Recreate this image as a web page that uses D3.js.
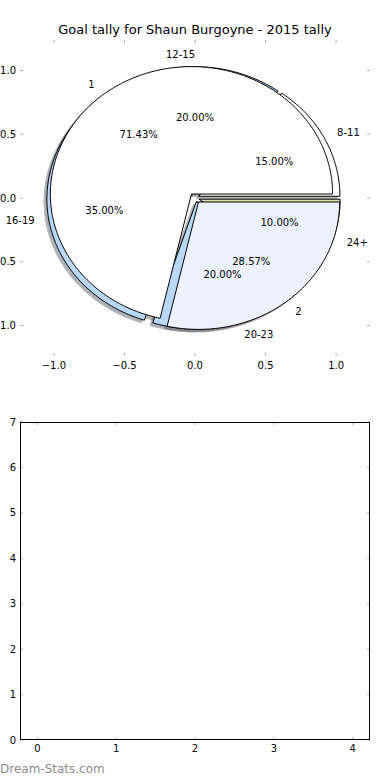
<!DOCTYPE html>
<html>
<head>
<script src="https://d3js.org/d3.v7.min.js"></script>
<style>
  body { margin: 0; background: #fff; }
  svg { display: block; }
  text { font-family: "DejaVu Sans", sans-serif; fill: #000; }
</style>
</head>
<body>
<script>
const title = "Goal tally for Shaun Burgoyne - 2015 tally";

// outer pie: goals by quarter-time range (percent)
const rangeLabels = ["8-11", "12-15", "16-19", "20-23", "24+"];
const rangeValues = [15, 20, 35, 20, 10];
const rangeColors = ["#ffffff", "#b9d7f9", "#b9d7f9", "#b9d7f9", "#d9e6a8"];
const rangeExplode = [0.03, 0.03, 0.05, 0.03, 0.03];

// second pie: goals per game
const goalLabels = ["1", "2"];
const goalValues = [5, 2];
const goalColors = ["#ffffff", "#ecf2fd"];
const goalExplode = [0.04, 0.04];

const pieTicks = [-1, -0.5, 0, 0.5, 1];
const emptyXTicks = [0, 1, 2, 3, 4];
const emptyYTicks = [0, 1, 2, 3, 4, 5, 6, 7];

const width = 390, height = 780;
const left = 20, right = 370;

const svg = d3.select("body").append("svg")
  .attr("width", width)
  .attr("height", height);

const fmtTick = v => (v < 0 ? "\u2212" : "") + Math.abs(v).toFixed(1);

// ---------- pie axes ----------
const xPie = d3.scaleLinear().domain([-1.24, 1.24]).range([left, right]);
const yPie = d3.scaleLinear().domain([-1.24, 1.24]).range([356, 40]);

svg.append("text")
  .attr("x", 195).attr("y", 34)
  .attr("text-anchor", "middle")
  .attr("font-size", 13)
  .text(title);

const pie = d3.pie().sort(null).value(d => d);

function makeWedges(values, labels, colors, explode) {
  return pie(values).map((d, i) => {
    const mid = (d.startAngle + d.endAngle) / 2;
    return {
      start: d.startAngle, end: d.endAngle, mid: mid,
      cx: explode[i] * Math.cos(mid), cy: explode[i] * Math.sin(mid),
      label: labels[i], color: colors[i],
      pct: (d.value / d3.sum(values) * 100).toFixed(2) + "%"
    };
  });
}

const wedges = makeWedges(rangeValues, rangeLabels, rangeColors, rangeExplode)
  .concat(makeWedges(goalValues, goalLabels, goalColors, goalExplode));

function wedgePath(w, off) {
  const pts = [[w.cx, w.cy]];
  const n = Math.ceil((w.end - w.start) / (Math.PI / 180)) + 1;
  for (let k = 0; k <= n; k++) {
    const a = w.start + (w.end - w.start) * k / n;
    pts.push([w.cx + Math.cos(a), w.cy + Math.sin(a)]);
  }
  const line = d3.line()
    .x(p => xPie(p[0] + off))
    .y(p => yPie(p[1] + off));
  return line(pts) + "Z";
}

// shadow colour = 0.3 * face colour
const shade = c => { const r = d3.rgb(c); return d3.rgb(r.r * 0.3, r.g * 0.3, r.b * 0.3); };

// shadows first, then every wedge
svg.append("g").selectAll("path")
  .data(wedges)
  .enter()
  .append("path")
  .attr("d", w => wedgePath(w, -0.02))
  .attr("fill", w => shade(w.color))
  .attr("stroke", w => shade(w.color))
  .attr("stroke-width", 1)
  .attr("opacity", 0.4);

svg.append("g").selectAll("path")
  .data(wedges)
  .enter()
  .append("path")
  .attr("d", w => wedgePath(w, 0))
  .attr("fill", w => w.color)
  .attr("stroke", "#000")
  .attr("stroke-width", 1);

const labelsG = svg.append("g").attr("font-size", 10);

labelsG.selectAll("text.lab")
  .data(wedges)
  .enter()
  .append("text")
  .attr("class", "lab")
  .attr("x", w => xPie(w.cx + 1.1 * Math.cos(w.mid)))
  .attr("y", w => yPie(w.cy + 1.1 * Math.sin(w.mid)))
  .attr("dy", "0.35em")
  .attr("text-anchor", w => (w.cx + 1.1 * Math.cos(w.mid)) > 1e-9 ? "start" : "end")
  .text(w => w.label);

labelsG.selectAll("text.pct")
  .data(wedges)
  .enter()
  .append("text")
  .attr("class", "pct")
  .attr("x", w => xPie(w.cx + 0.6 * Math.cos(w.mid)))
  .attr("y", w => yPie(w.cy + 0.6 * Math.sin(w.mid)))
  .attr("dy", "0.35em")
  .attr("text-anchor", "middle")
  .text(w => w.pct);

// pie ticks (no frame)
const tickColor = "#aaaaaa";
const pt = svg.append("g").attr("stroke", tickColor).attr("stroke-width", 1);
pieTicks.forEach(t => {
  pt.append("line").attr("x1", xPie(t)).attr("x2", xPie(t)).attr("y1", 40).attr("y2", 43);
  pt.append("line").attr("x1", xPie(t)).attr("x2", xPie(t)).attr("y1", 356).attr("y2", 353);
  pt.append("line").attr("y1", yPie(t)).attr("y2", yPie(t)).attr("x1", left).attr("x2", left + 3);
  pt.append("line").attr("y1", yPie(t)).attr("y2", yPie(t)).attr("x1", right).attr("x2", right - 3);
});

svg.append("g").attr("font-size", 10)
  .selectAll("text")
  .data(pieTicks)
  .enter()
  .append("text")
  .attr("x", d => xPie(d))
  .attr("y", 369)
  .attr("text-anchor", "middle")
  .text(fmtTick);

// y labels sit against the left edge; the minus signs run off the page as in the original
svg.append("g").attr("font-size", 10)
  .selectAll("text")
  .data(pieTicks)
  .enter()
  .append("text")
  .attr("x", 16)
  .attr("y", d => yPie(d))
  .attr("dy", "0.35em")
  .attr("text-anchor", "end")
  .text(fmtTick);

// ---------- empty axes ----------
const xE = d3.scaleLinear().domain([-0.22, 4.22]).range([left, right]);
const yE = d3.scaleLinear().domain([0, 7]).range([740, 422]);

const et = svg.append("g").attr("stroke", tickColor).attr("stroke-width", 1);
emptyXTicks.forEach(t => {
  et.append("line").attr("x1", xE(t)).attr("x2", xE(t)).attr("y1", 422).attr("y2", 425);
  et.append("line").attr("x1", xE(t)).attr("x2", xE(t)).attr("y1", 740).attr("y2", 737);
});
emptyYTicks.forEach(t => {
  et.append("line").attr("y1", yE(t)).attr("y2", yE(t)).attr("x1", left).attr("x2", left + 3);
  et.append("line").attr("y1", yE(t)).attr("y2", yE(t)).attr("x1", right).attr("x2", right - 3);
});

svg.append("rect")
  .attr("x", left + 0.5).attr("y", 422 + 0.5)
  .attr("width", right - left - 1).attr("height", 740 - 422 - 1)
  .attr("fill", "none")
  .attr("stroke", "#000");

svg.append("g").attr("font-size", 10)
  .selectAll("text")
  .data(emptyXTicks)
  .enter()
  .append("text")
  .attr("x", d => xE(d))
  .attr("y", 752)
  .attr("text-anchor", "middle")
  .text(d => d);

svg.append("g").attr("font-size", 10)
  .selectAll("text")
  .data(emptyYTicks)
  .enter()
  .append("text")
  .attr("x", 16)
  .attr("y", d => yE(d))
  .attr("dy", "0.35em")
  .attr("text-anchor", "end")
  .text(d => d);

svg.append("text")
  .attr("x", 0).attr("y", 773)
  .attr("font-size", 12)
  .style("fill", "#8c8c8c")
  .text("Dream-Stats.com");
</script>
</body>
</html>
